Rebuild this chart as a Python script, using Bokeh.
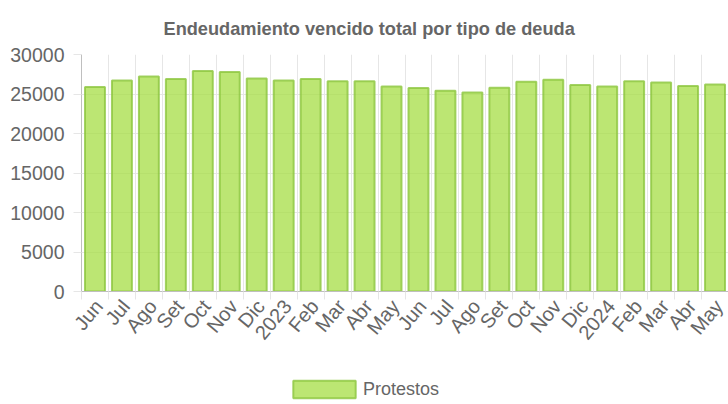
from bokeh.plotting import figure
from bokeh.layouts import column
from bokeh.models import Range1d, FixedTicker, ColumnDataSource, Legend, LegendItem
from bokeh.embed import file_html
from bokeh.resources import INLINE
import math

months = ["Jun", "Jul", "Ago", "Set", "Oct", "Nov", "Dic", "2023", "Feb", "Mar", "Abr", "May",
          "Jun", "Jul", "Ago", "Set", "Oct", "Nov", "Dic", "2024", "Feb", "Mar", "Abr", "May"]
protestos = [25900, 26700, 27200, 26900, 27900, 27800, 26950, 26700, 26900, 26600, 26600, 25950,
             25750, 25400, 25200, 25800, 26550, 26800, 26150, 25950, 26600, 26450, 26000, 26200]
y_ticks = [0, 5000, 10000, 15000, 20000, 25000, 30000]
title_text = "Endeudamiento vencido total por tipo de deuda"
series_name = "Protestos"

FONT = "Liberation Sans"
GRID = "#e6e6e6"
TEXT = "#666666"
BAR_STYLE = dict(fill_color="#a6dd44", fill_alpha=0.75, line_color="#8cc63f", line_alpha=0.8, line_width=2)
LABEL_SHIFT = 0.14  # rotated labels end slightly right of the category centre

n = len(months)
centers = [i + 0.5 for i in range(n)]
bounds = list(range(n + 1))
label_pos = [c + LABEL_SHIFT for c in centers]

src = ColumnDataSource(dict(x=centers, top=protestos, label=months))

p = figure(width=728, height=356, output_backend="svg", toolbar_location=None,
           x_range=Range1d(0, n), y_range=Range1d(0, 30000),
           min_border_left=81, min_border_right=0, min_border_top=54, min_border_bottom=65)

p.title.text = title_text
p.title.text_font = FONT
p.title.text_font_size = "18.2px"
p.title.text_font_style = "bold"
p.title.text_color = TEXT
p.title.align = "left"
p.title.offset = 82
p.title.standoff = 32

r = p.vbar(x="x", top="top", width=0.74, source=src, **BAR_STYLE)

p.outline_line_color = None

xt = FixedTicker(ticks=label_pos, minor_ticks=bounds)
p.xaxis.ticker = xt
p.xaxis.major_label_overrides = {c: m for c, m in zip(label_pos, months)}
p.xaxis.major_label_orientation = math.radians(50)
p.xaxis.major_tick_line_color = None
p.xaxis.minor_tick_in = 0
p.xaxis.minor_tick_out = 8
p.xaxis.minor_tick_line_color = GRID
p.xaxis.axis_line_color = "#bfbfbf"
p.xaxis.major_label_text_font = FONT
p.xaxis.major_label_text_font_size = "20px"
p.xaxis.major_label_text_color = TEXT
p.xaxis.major_label_standoff = 3

p.yaxis.ticker = FixedTicker(ticks=y_ticks, minor_ticks=[])
p.yaxis.major_tick_in = 0
p.yaxis.major_tick_out = 8
p.yaxis.major_tick_line_color = GRID
p.yaxis.axis_line_color = "#bfbfbf"
p.yaxis.major_label_text_font = FONT
p.yaxis.major_label_text_font_size = "19.5px"
p.yaxis.major_label_text_color = TEXT
p.yaxis.major_label_standoff = 9
p.yaxis.formatter.use_scientific = False

p.xgrid.ticker = FixedTicker(ticks=bounds)
p.xgrid.grid_line_color = GRID
p.ygrid.ticker = FixedTicker(ticks=y_ticks)
p.ygrid.grid_line_color = GRID

# legend strip below the chart; its renderer is hidden, only the legend swatch shows
lg = figure(width=728, height=48, output_backend="svg", toolbar_location=None,
            x_range=Range1d(0, n), y_range=Range1d(0, 30000),
            x_axis_location=None, y_axis_location=None, min_border=0)
lg.outline_line_color = None
lg.grid.visible = False
r2 = lg.vbar(x="x", top="top", width=0.74, source=src, visible=False, **BAR_STYLE)
legend = Legend(items=[LegendItem(label=series_name, renderers=[r2])], orientation="horizontal",
                location=(204, 4), glyph_width=78, glyph_height=22, label_standoff=0,
                label_text_font=FONT, label_text_font_size="18px", label_text_color=TEXT,
                border_line_color=None, background_fill_alpha=0, margin=0, padding=2,
                inactive_fill_alpha=0)
lg.add_layout(legend, "center")

layout = column(p, lg, spacing=0)
open("out.html", "w").write(file_html(layout, INLINE))
